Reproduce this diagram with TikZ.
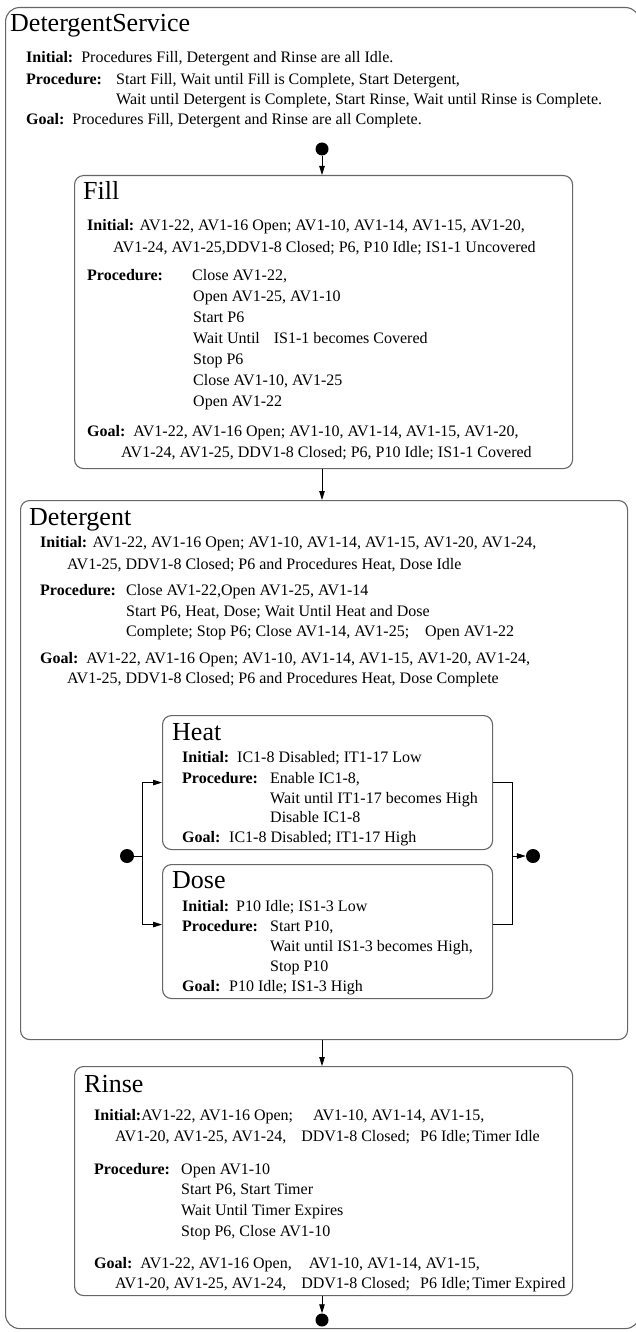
\documentclass[tikz,border=0pt]{standalone}
\usepackage{fontspec}
\setmainfont{Liberation Serif}
\usetikzlibrary{arrows.meta}
\tikzset{
  state/.style={draw=black!60, line width=1.1pt, rounded corners=9pt, anchor=north west, inner sep=0pt},
  ttl/.style={anchor=base west, inner sep=0pt, font=\fontsize{26}{30}\selectfont},
  txt/.style={anchor=base west, inner sep=0pt, font=\fontsize{16}{19}\selectfont},
  dot/.style={circle, fill=black, inner sep=0pt, minimum size=13pt},
  flow/.style={-{Triangle[length=9pt, width=5.5pt]}, line width=0.8pt},
  wire/.style={line width=0.8pt}
}

\begin{document}
\begin{tikzpicture}[x=1pt, y=-1pt]
    \useasboundingbox (0,0) rectangle (636,1332);
    % outer service
    \node[state, rounded corners=14pt, minimum width=634pt, minimum height=1321pt] (service) at (5,7) {};
    \node[ttl] (serviceT) at (10,32) {DetergentService};
    \node[txt] (serviceI) at (26,63) {\textbf{Initial:}\ \ Procedures Fill, Detergent and Rinse are all Idle.};
    \node[txt] (serviceP) at (26,85) {\textbf{Procedure:}};
    \node[txt] (serviceP1) at (116,85) {Start Fill, Wait until Fill is Complete, Start Detergent,};
    \node[txt] (serviceP2) at (116,105) {Wait until Detergent is Complete, Start Rinse, Wait until Rinse is Complete.};
    \node[txt] (serviceG) at (26,125) {\textbf{Goal:}\ \ Procedures Fill, Detergent and Rinse are all Complete.};
    \node[dot] (start) at (322,149) {};

    % fill
    \node[state, minimum width=498pt, minimum height=293pt] (fill) at (74,175) {};
    \node[ttl] (fillT) at (83,200) {Fill};
    \node[txt] (fillI1) at (87,231) {\textbf{Initial:} AV1-22, AV1-16 Open; AV1-10, AV1-14, AV1-15, AV1-20,};
    \node[txt] (fillI2) at (113,252) {AV1-24, AV1-25,DDV1-8 Closed; P6, P10 Idle; IS1-1 Uncovered};
    \node[txt] (fillP) at (87,280) {\textbf{Procedure:}};
    \node[txt] (fillP1) at (192,280) {Close AV1-22,};
    \node[txt] (fillP2) at (193,301) {Open AV1-25, AV1-10};
    \node[txt] (fillP3) at (193,322) {Start P6};
    \node[txt] (fillP4) at (193,343) {Wait Until\hspace{14pt}IS1-1 becomes Covered};
    \node[txt] (fillP5) at (193,364) {Stop P6};
    \node[txt] (fillP6) at (193,385) {Close AV1-10, AV1-25};
    \node[txt] (fillP7) at (193,406) {Open AV1-22};
    \node[txt] (fillG1) at (87,436) {\textbf{Goal:}\ \ AV1-22, AV1-16 Open; AV1-10, AV1-14, AV1-15, AV1-20,};
    \node[txt] (fillG2) at (121,457) {AV1-24, AV1-25, DDV1-8 Closed; P6, P10 Idle; IS1-1 Covered};

    % detergent
    \node[state, minimum width=607pt, minimum height=539pt] (detergent) at (20,500) {};
    \node[ttl] (detergentT) at (29,525) {Detergent};
    \node[txt] (detergentI1) at (40,547) {\textbf{Initial:} AV1-22, AV1-16 Open; AV1-10, AV1-14, AV1-15, AV1-20, AV1-24,};
    \node[txt] (detergentI2) at (67,569) {AV1-25, DDV1-8 Closed; P6 and Procedures Heat, Dose Idle};
    \node[txt] (detergentP) at (40,595) {\textbf{Procedure:}};
    \node[txt] (detergentP1) at (126,595) {Close AV1-22,Open AV1-25, AV1-14};
    \node[txt] (detergentP2) at (126,616) {Start P6, Heat, Dose; Wait Until Heat and Dose};
    \node[txt] (detergentP3) at (126,636) {Complete; Stop P6; Close AV1-14, AV1-25;\hspace{16pt}Open AV1-22};
    \node[txt] (detergentG1) at (40,663) {\textbf{Goal:}\ \ AV1-22, AV1-16 Open; AV1-10, AV1-14, AV1-15, AV1-20, AV1-24,};
    \node[txt] (detergentG2) at (67,683) {AV1-25, DDV1-8 Closed; P6 and Procedures Heat, Dose Complete};

    % heat and dose in parallel
    \node[state, minimum width=330pt, minimum height=134pt] (heat) at (162,715) {};
    \node[ttl] (heatT) at (172,740) {Heat};
    \node[txt] (heatI) at (182,762) {\textbf{Initial:}};
    \node[txt] (heatI1) at (237,762) {IC1-8 Disabled; IT1-17 Low};
    \node[txt] (heatP) at (182,783) {\textbf{Procedure:}};
    \node[txt] (heatP1) at (270,783) {Enable IC1-8,};
    \node[txt] (heatP2) at (270,803) {Wait until IT1-17 becomes High};
    \node[txt] (heatP3) at (270,822) {Disable IC1-8};
    \node[txt] (heatG) at (182,842) {\textbf{Goal:}};
    \node[txt] (heatG1) at (229,842) {IC1-8 Disabled; IT1-17 High};

    \node[state, minimum width=330pt, minimum height=134pt] (dose) at (162,864) {};
    \node[ttl] (doseT) at (172,888) {Dose};
    \node[txt] (doseI) at (182,911) {\textbf{Initial:}};
    \node[txt] (doseI1) at (236,911) {P10 Idle; IS1-3 Low};
    \node[txt] (doseP) at (182,931) {\textbf{Procedure:}};
    \node[txt] (doseP1) at (270,931) {Start P10,};
    \node[txt] (doseP2) at (270,951) {Wait until IS1-3 becomes High,};
    \node[txt] (doseP3) at (270,971) {Stop P10};
    \node[txt] (doseG) at (182,991) {\textbf{Goal:}};
    \node[txt] (doseG1) at (229,991) {P10 Idle; IS1-3 High};

    \node[dot, minimum size=14pt] (fork) at (127,856) {};
    \node[dot, minimum size=14pt] (join) at (533,856) {};
    \coordinate (split) at (142,856);
    \coordinate (merge) at (512,856);

    % rinse
    \node[state, minimum width=498pt, minimum height=229pt] (rinse) at (74,1066) {};
    \node[ttl] (rinseT) at (84,1092) {Rinse};
    \node[txt] (rinseI1) at (94,1120) {\textbf{Initial:}AV1-22, AV1-16 Open;\hspace{20pt}AV1-10, AV1-14, AV1-15,};
    \node[txt] (rinseI2) at (115,1141) {AV1-20, AV1-25, AV1-24,\hspace{15pt}DDV1-8 Closed;\hspace{10pt}P6 Idle;\hspace{2pt}Timer Idle};
    \node[txt] (rinseP) at (94,1174) {\textbf{Procedure:}};
    \node[txt] (rinseP1) at (181,1174) {Open AV1-10};
    \node[txt] (rinseP2) at (181,1194) {Start P6, Start Timer};
    \node[txt] (rinseP3) at (181,1215) {Wait Until Timer Expires};
    \node[txt] (rinseP4) at (181,1236) {Stop P6, Close AV1-10};
    \node[txt] (rinseG1) at (94,1268) {\textbf{Goal:}\ \ AV1-22, AV1-16 Open,\hspace{17pt}AV1-10, AV1-14, AV1-15,};
    \node[txt] (rinseG2) at (115,1288) {AV1-20, AV1-25, AV1-24,\hspace{15pt}DDV1-8 Closed;\hspace{10pt}P6 Idle;\hspace{2pt}Timer Expired};
    \node[dot] (finish) at (322,1320) {};

    % transitions
    \draw[flow] (start) -- (start |- fill.north);
    \draw[flow] (start |- fill.south) -- (start |- detergent.north);
    \draw[flow] (start |- detergent.south) -- (start |- rinse.north);
    \draw[flow] (start |- rinse.south) -- (finish);
    \draw[wire] (fork) -- (split);
    \draw[flow] (split) |- (heat.west);
    \draw[flow] (split) |- ([yshift=7pt]dose.west);
    \draw[wire] (heat.east) -| (merge);
    \draw[wire] ([yshift=7pt]dose.east) -| (merge);
    \draw[flow] (merge) -- (join);
\end{tikzpicture}
\end{document}
